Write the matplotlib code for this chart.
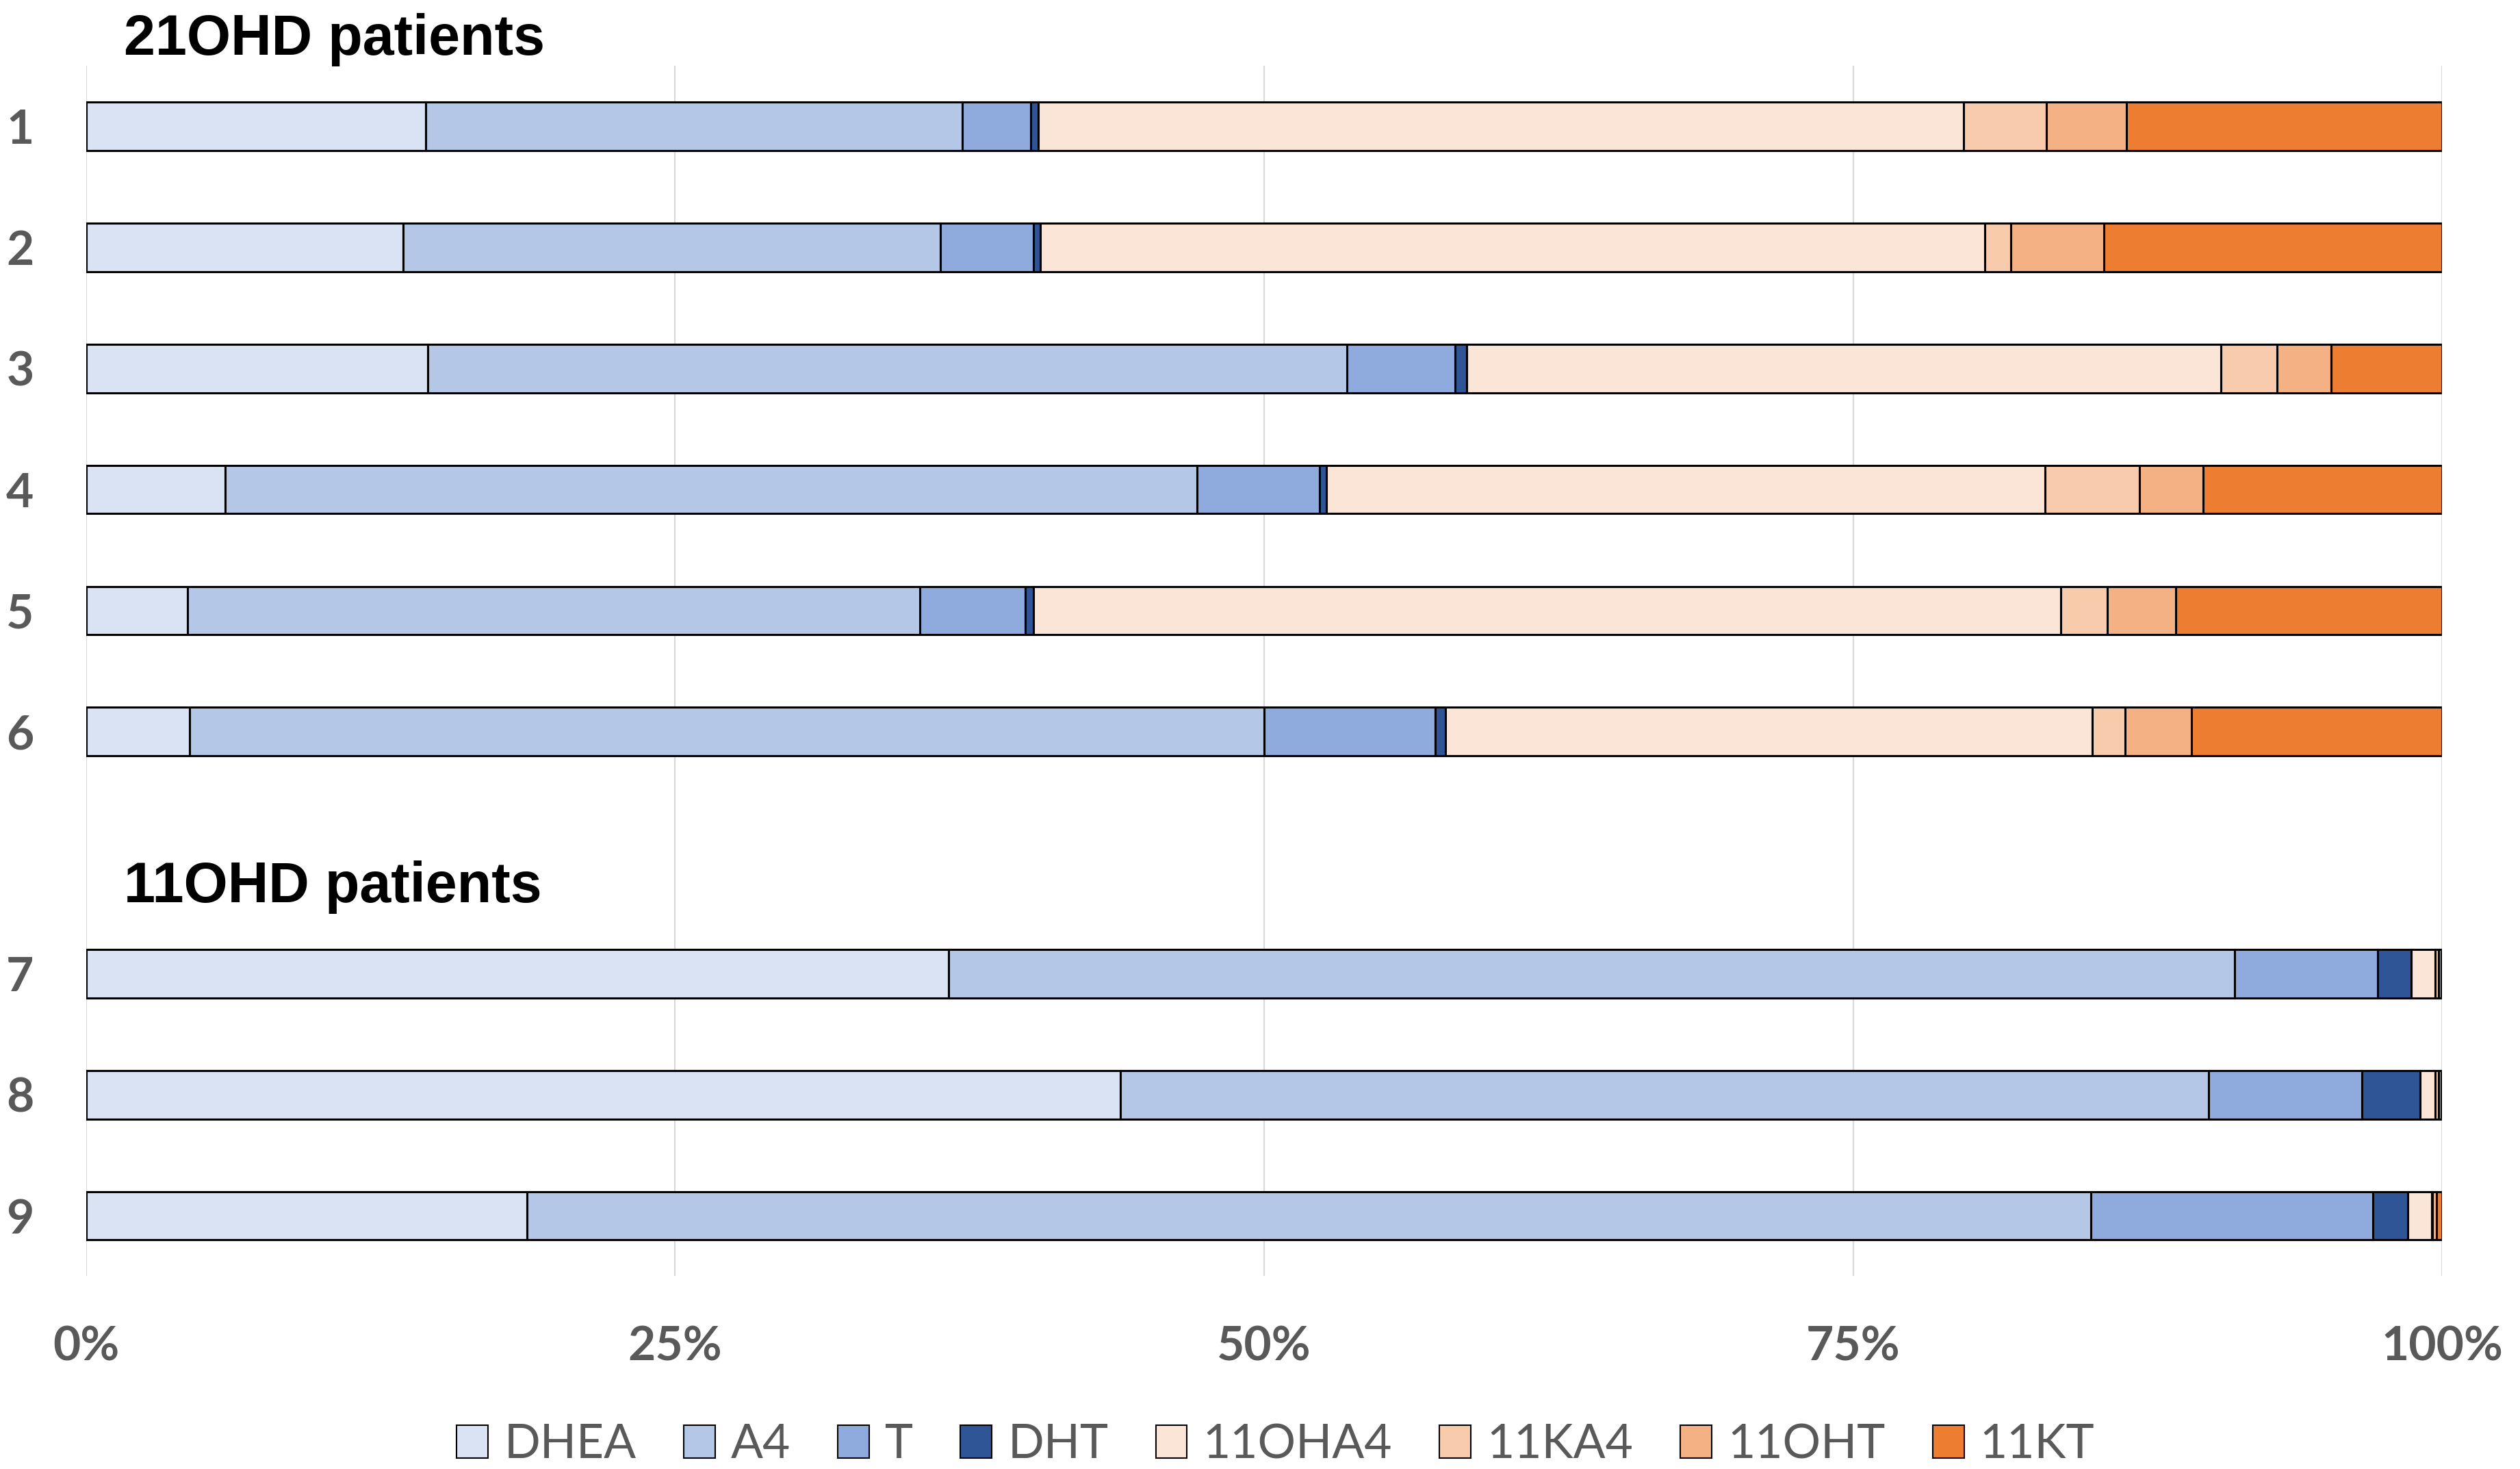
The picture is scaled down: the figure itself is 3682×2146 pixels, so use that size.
import matplotlib.pyplot as plt
from matplotlib.patches import Patch
import numpy as np

patients = ['1', '2', '3', '4', '5', '6', '7', '8', '9']
row_pos = [0, 1, 2, 3, 4, 5, 7, 8, 9]  # row 6 left empty for the 11OHD heading

# share of each androgen per patient, in %
dhea = [14.4, 13.45, 14.5, 5.9, 4.3, 4.4, 36.6, 43.9, 18.7]
a4 = [22.8, 22.8, 39.0, 41.25, 31.1, 45.6, 54.6, 46.2, 66.4]
t = [2.9, 3.95, 4.6, 5.2, 4.45, 7.25, 6.05, 6.5, 11.95]
dht = [0.3, 0.3, 0.5, 0.3, 0.35, 0.45, 1.45, 2.45, 1.5]
oha4 = [39.3, 40.1, 32.0, 30.5, 43.6, 27.45, 1.0, 0.65, 1.0]
ka4 = [3.5, 1.1, 2.4, 4.0, 2.0, 1.4, 0.15, 0.15, 0.05]
oht = [3.4, 3.95, 2.3, 2.7, 2.9, 2.8, 0.1, 0.1, 0.15]
kt = [13.4, 14.35, 4.7, 10.15, 11.3, 10.65, 0.05, 0.05, 0.25]

series_names = ['DHEA', 'A4', 'T', 'DHT', '11OHA4', '11KA4', '11OHT', '11KT']
series_vals = [dhea, a4, t, dht, oha4, ka4, oht, kt]
colors = ['#dae3f3', '#b4c7e7', '#8faadc', '#2f5597',
          '#fbe5d6', '#f8cbad', '#f4b183', '#ed7d31']

xticks = [0, 25, 50, 75, 100]
xtick_labels = ['0%', '25%', '50%', '75%', '100%']

gray = '#595959'
tick_font = ['Lato', 'DejaVu Sans']
title_font = ['Liberation Sans', 'DejaVu Sans']

fig = plt.figure(figsize=(36.82, 21.46), dpi=100)
ax = fig.add_axes([0.0342, 0.1312, 0.9349, 0.8240])

left = np.zeros(len(patients))
for name, vals, col in zip(series_names, series_vals, colors):
    ax.barh(row_pos, vals, left=left, height=0.4, color=col,
            edgecolor='black', linewidth=2.2, label=name, zorder=3)
    left += np.array(vals)

ax.set_xlim(0, 100)
ax.set_ylim(9.5, -0.5)
ax.set_xticks(xticks)
ax.set_xticklabels(xtick_labels)
ax.set_yticks(row_pos)
ax.set_yticklabels(patients)
ax.grid(axis='x', color='#d9d9d9', linewidth=1.6, zorder=0)
ax.set_axisbelow(True)
for s in ax.spines.values():
    s.set_visible(False)
ax.tick_params(axis='x', length=0, pad=52, labelsize=50, labelcolor=gray)
ax.tick_params(axis='y', length=0, pad=55, labelsize=50, labelcolor=gray)
for lab in ax.get_xticklabels() + ax.get_yticklabels():
    lab.set_family(tick_font)
    lab.set_fontweight('bold')

# group headings
ax.text(1.6, -0.593, '21OHD patients', fontsize=59.5, fontweight='bold',
        family=title_font, ha='left', va='baseline')
ax.text(1.6, 6.407, '11OHD patients', fontsize=59.5, fontweight='bold',
        family=title_font, ha='left', va='baseline')

handles = [Patch(facecolor=c, edgecolor='black', linewidth=1.5) for c in colors]
leg = fig.legend(handles, series_names, loc='center', ncol=8,
                 bbox_to_anchor=(0.5062, 0.0165), frameon=False,
                 prop={'family': tick_font, 'size': 50},
                 handlelength=0.66, handleheight=0.68, handletextpad=0.33,
                 columnspacing=1.0, borderaxespad=0)
for txt in leg.get_texts():
    txt.set_color(gray)

fig.savefig('out.png', dpi=100)
